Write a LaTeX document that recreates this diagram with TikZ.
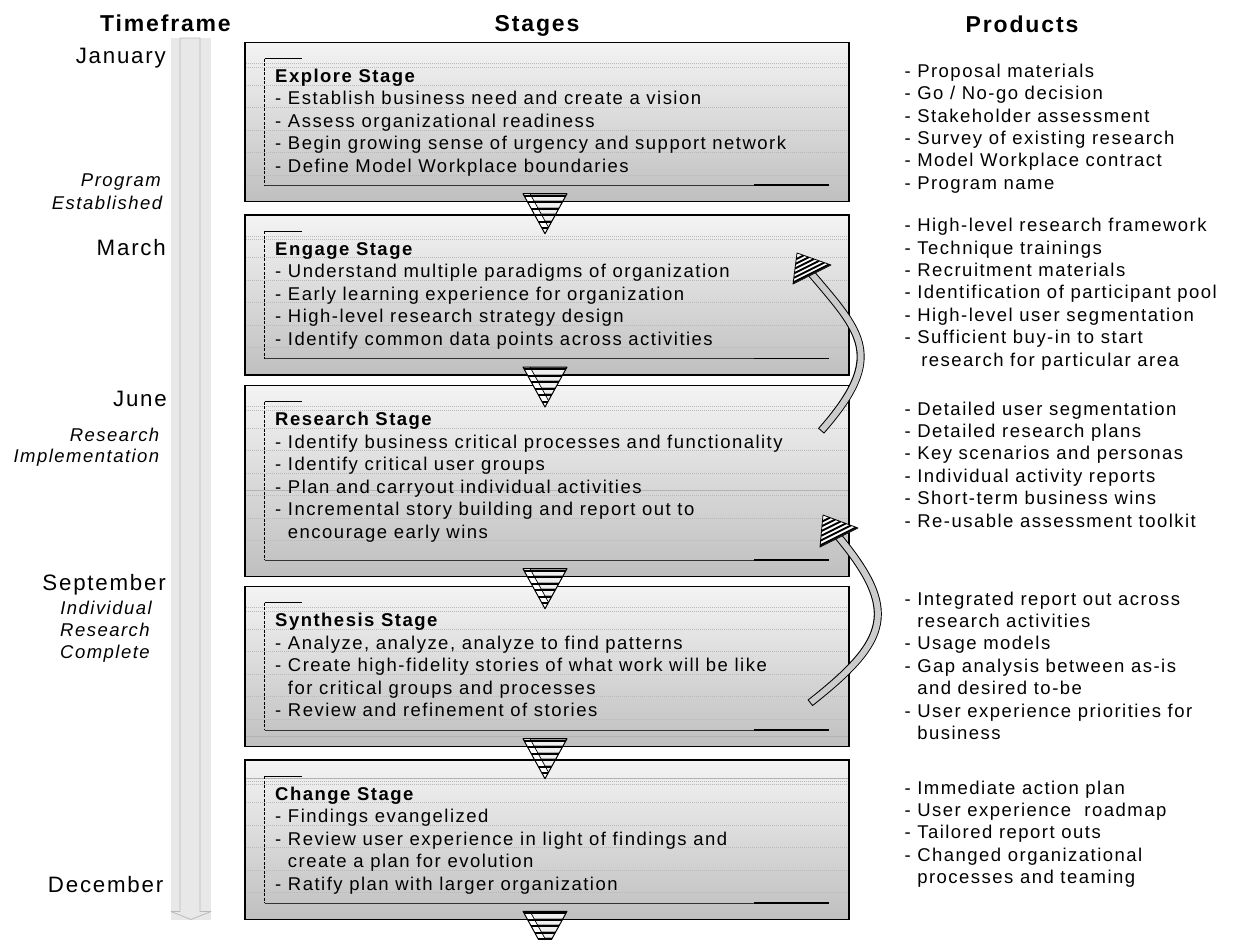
\documentclass[tikz,border=0pt]{standalone}
\usepackage{fontspec}
\setmainfont{Liberation Sans}[LetterSpace=8]
\usetikzlibrary{calc}
\newcommand\stagetext[3]{%
  \foreach \l [count=\i from 0] in {#3} {%
    \draw[ruleline] (246,{#2+\i*22.5+2.5}) -- (848,{#2+\i*22.5+2.5});
    \node[txt] (#1\i) at (275,{#2+\i*22.5}) {\l};
  }}
\newcommand\prodtext[3]{%
  \foreach \l [count=\i from 0] in {#3} {%
    \node[txt] (#1\i) at (904.3,{#2+\i*22.4}) {\l};
  }}
\newcommand\stagebracket[2]{%
  \draw[ruleline] (246,{#1+21}) -- (848,{#1+21});
  \draw[ruleline] (246,{#1+24.5}) -- (848,{#1+24.5});
  \draw[brk] (264.5,{#1+16}) -- (264.5,{#2-16.5});
  \draw[black, line width=0.6pt] (264.5,{#1+16}) -- (302,{#1+16});
  \draw[black!80, line width=0.6pt] (264.5,{#2-16.5}) -- (829,{#2-16.5});
  \draw[black, line width=1.8pt] (754,{#2-16.5}) -- (829,{#2-16.5});
}
% hatched arrow head: #1 tip, #2 base corner, #3 base corner
\newcommand\hatchhead[3]{%
  \fill[white] #1 -- #2 -- #3 -- cycle;
  \begin{scope}
    \clip #1 -- #2 -- #3 -- cycle;
    \foreach \f in {0.05,0.2,0.35,0.5,0.65,0.8} {
      \draw[black, line width=1.9pt] ($#2!\f!#1$) -- ($#3!\f!#1$);
    }
  \end{scope}
  \draw[black, line width=0.8pt, line join=round] #1 -- #2 -- #3 -- cycle;
}
\begin{document}
\begin{tikzpicture}[x=1pt,y=-1pt,
  hdr/.style={font=\fontsize{23}{27}\selectfont\bfseries, anchor=base, inner sep=0pt},
  month/.style={font=\fontsize{22.3}{26}\selectfont, anchor=base east, inner sep=0pt},
  note/.style={font=\fontsize{18.5}{22}\selectfont\itshape, anchor=base east, inner sep=0pt},
  notec/.style={font=\fontsize{18.5}{22}\selectfont\itshape, anchor=base, inner sep=0pt},
  txt/.style={font=\fontsize{18.5}{22}\selectfont, anchor=base west, inner sep=0pt},
  stagebox/.style={draw=black, line width=1.3pt, top color=gray!9, bottom color=gray!50,
    anchor=north west, minimum width=604pt, inner sep=0pt, outer sep=0pt},
  ruleline/.style={gray!55, line width=0.5pt, dash pattern=on 1pt off 1pt},
  faint/.style={gray!60, line width=0.6pt},
  brk/.style={black, line width=0.6pt, dash pattern=on 3pt off 1.5pt},
  shaftout/.style={black, line width=8pt},
  shaftin/.style={gray!40, line width=6pt, shorten <=1pt},
  stagetri/.pic={
    \fill[gray!65] (-22,0) -- (22,0) -- (0,40) -- cycle;
    \begin{scope}
      \clip (-22,0) -- (22,0) -- (0,40) -- cycle;
      \foreach \k in {0,...,5} {\fill[gray!12] (-25,{3+\k*6.5}) rectangle (25,{6.5+\k*6.5});}
      \fill[white] (-22,0) -- (-15,0) -- (3.5,33.6) -- (0,40) -- cycle;
      \foreach \k in {0,...,5} {\fill[black] (-25,{1+\k*6.5}) rectangle (25,{3+\k*6.5});}
    \end{scope}
    \draw[black, line width=0.7pt] (-15,0) -- (3.5,33.6);
    \draw[black, line width=1pt, line join=round] (-22,0) -- (22,0) -- (0,40) -- cycle;
  }
]
\useasboundingbox (0,0) rectangle (1235,940);

% headers
\node[hdr] (hT) at (165.5,31.5) {Timeframe};
\node[hdr] (hS) at (537,31.5) {Stages};
\node[hdr] (hP) at (1022,32) {Products};

% timeline bar
\fill[gray!18] (171,38) rectangle (211,920);
\draw[gray!55, line width=0.8pt, line join=round] (180,38) -- (200,38) -- (200,911.5) -- (211,911.5)
  -- (191,919.5) -- (171,911.5) -- (180,911.5) -- cycle;

% timeframe labels
\node[month] (mJan) at (166,63.3) {January};
\node[note] (nP1) at (161,186.5) {Program};
\node[note] (nP2) at (162.5,209) {Established};
\node[month] (mMar) at (166,255) {March};
\node[month] (mJun) at (167,406.7) {June};
\node[note] (nR1) at (159.5,441.3) {Research};
\node[note] (nR2) at (159.5,462.6) {Implementation};
\node[month] (mSep) at (166,590) {September};
\node[notec] (nI1) at (106,614) {Individual};
\node[notec] (nI2) at (105,636.4) {Research};
\node[notec] (nI3) at (105,658.8) {Complete};
\node[month] (mDec) at (163.5,892) {December};

% stage boxes
\node[stagebox, minimum height=159.2pt] (explore) at (245,42.5) {};
\node[stagebox, minimum height=160pt] (engage) at (245,215) {};
\node[stagebox, minimum height=191.2pt] (research) at (245,385.5) {};
\node[stagebox, minimum height=160.2pt] (synthesis) at (245,586.5) {};
\node[stagebox, minimum height=159.3pt] (change) at (245,760) {};

\draw[faint] (246,490) -- (848,490);
\draw[faint] (246,736) -- (848,736);
\draw[faint] (246,778) -- (848,778);

\stagebracket{42.5}{201.7}
\stagebracket{215}{375}
\stagebracket{385.5}{576.7}
\stagebracket{586.5}{746.7}
\stagebracket{760}{919.3}

\stagetext{ex}{82.3}{{\textbf{Explore Stage}},{- Establish business need and create a vision},{- Assess organizational readiness},{- Begin growing sense of urgency and support network},{- Define Model Workplace boundaries}}
\stagetext{en}{255}{{\textbf{Engage Stage}},{- Understand multiple paradigms of organization},{- Early learning experience for organization},{- High-level research strategy design},{- Identify common data points across activities}}
\stagetext{re}{425.5}{{\textbf{Research Stage}},{- Identify business critical processes and functionality},{- Identify critical user groups},{- Plan and carryout individual activities},{- Incremental story building and report out to},{\phantom{- }encourage early wins}}
\stagetext{sy}{626.6}{{\textbf{Synthesis Stage}},{- Analyze, analyze, analyze to find patterns},{- Create high-fidelity stories of what work will be like},{\phantom{- }for critical groups and processes},{- Review and refinement of stories}}
\stagetext{ch}{800}{{\textbf{Change Stage}},{- Findings evangelized},{- Review user experience in light of findings and},{\phantom{- }create a plan for evolution},{- Ratify plan with larger organization}}

% down triangles between stages
\pic at ([xshift=-2pt,yshift=8pt]explore.south) {stagetri};
\pic at ([xshift=-2pt,yshift=8pt]engage.south) {stagetri};
\pic at ([xshift=-2pt,yshift=8pt]research.south) {stagetri};
\pic at ([xshift=-2pt,yshift=8pt]synthesis.south) {stagetri};
\pic at ([xshift=-2pt,yshift=8pt]change.south) {stagetri};

% curved feedback arrows
\coordinate (a1t) at (821,431);
\coordinate (a1h) at (810,272);
\draw[shaftout] (a1t) .. controls (887,356) and (861.6,333) .. (a1h);
\draw[shaftin] (a1t) .. controls (887,356) and (861.6,333) .. (a1h);
\hatchhead{(797,253)}{(831,265)}{(793,284)}

\coordinate (a2t) at (810,703);
\coordinate (a2h) at (837,535);
\draw[shaftout] (a2t) .. controls (890,640) and (899.5,610) .. (a2h);
\draw[shaftin] (a2t) .. controls (890,640) and (899.5,610) .. (a2h);
\hatchhead{(823,515)}{(858,528)}{(820,547)}

% products
\prodtext{pa}{77.3}{{- Proposal materials},{- Go / No-go decision},{- Stakeholder assessment},{- Survey of existing research},{- Model Workplace contract},{- Program name}}
\prodtext{pb}{231.7}{{- High-level research framework},{- Technique trainings},{- Recruitment materials},{- Identification of participant pool},{- High-level user segmentation},{- Sufficient buy-in to start},{\phantom{- }\hspace{4pt}research for particular area}}
\prodtext{pc}{415}{{- Detailed user segmentation},{- Detailed research plans},{- Key scenarios and personas},{- Individual activity reports},{- Short-term business wins},{- Re-usable assessment toolkit}}
\prodtext{pd}{605}{{- Integrated report out across},{\phantom{- }research activities},{- Usage models},{- Gap analysis between as-is},{\phantom{- }and desired to-be},{- User experience priorities for},{\phantom{- }business}}
\prodtext{pe}{794}{{- Immediate action plan},{- User experience\ \ roadmap},{- Tailored report outs},{- Changed organizational},{\phantom{- }processes and teaming}}
\end{tikzpicture}
\end{document}
